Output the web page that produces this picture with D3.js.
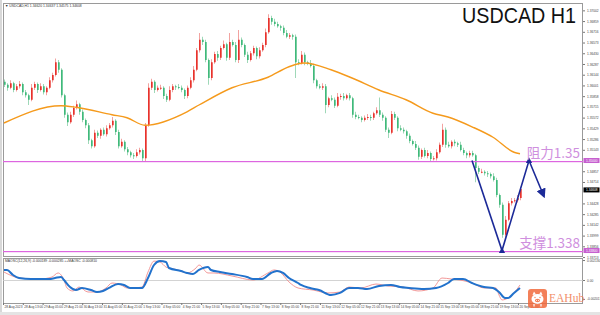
<!DOCTYPE html>
<html><head><meta charset="utf-8">
<script src="https://cdn.jsdelivr.net/npm/d3@7"></script>
<style>html,body{margin:0;padding:0;background:#fff;overflow:hidden}svg{display:block}</style>
</head><body><svg id="c" width="600" height="315"></svg>
<script>
// ---------------- DATA ----------------
const firstOpen = 1.3605;
const closes = [
1.3601,1.3597,1.3603,1.3594,1.3599,1.3602,1.3591,1.3587,1.3581,1.3597,
1.3602,1.3594,1.3599,1.3591,1.3597,1.3607,1.3614,1.3631,1.3621,1.3587,
1.3561,1.3551,1.3561,1.3570,1.3575,1.3565,1.3554,1.3547,1.3527,1.3519,
1.3537,1.3533,1.3541,1.3535,1.3543,1.3547,1.3553,1.3538,1.3519,1.3525,
1.3515,1.3511,1.3507,1.3506,1.3511,1.3514,1.3503,1.3547,1.3597,1.3605,
1.3594,1.3597,1.3597,1.3586,1.3581,1.3594,1.3599,1.3598,1.3597,1.3594,
1.3586,1.3597,1.3607,1.3621,1.3647,1.3661,1.3658,1.3634,1.3610,1.3631,
1.3642,1.3637,1.3650,1.3655,1.3637,1.3658,1.3654,1.3634,1.3661,1.3654,
1.3641,1.3634,1.3643,1.3650,1.3639,1.3647,1.3654,1.3671,1.3690,1.3685,
1.3682,1.3679,1.3677,1.3670,1.3665,1.3667,1.3665,1.3631,1.3630,1.3641,
1.3631,1.3630,1.3626,1.3607,1.3599,1.3597,1.3599,1.3574,1.3583,1.3581,
1.3573,1.3585,1.3586,1.3583,1.3587,1.3583,1.3561,1.3558,1.3557,1.3554,
1.3557,1.3558,1.3557,1.3563,1.3567,1.3561,1.3557,1.3541,1.3537,1.3562,
1.3557,1.3543,1.3541,1.3539,1.3533,1.3526,1.3522,1.3517,1.3505,1.3514,
1.3506,1.3510,1.3502,1.3503,1.3511,1.3521,1.3541,1.3521,1.3519,1.3525,
1.3523,1.3521,1.3514,1.3510,1.3507,1.3510,1.3507,1.3490,1.3485,1.3485,
1.3483,1.3482,1.3479,1.3474,1.3454,1.3441,1.3401,1.3421,1.3443,1.3446,
1.3447,1.3450,1.3462];
// wick lengths in pips (0.0001) above / below the body
const upWick = [
3,2,4,2,3,4,2,3,2,5, 3,2,4,3,2,4,3,5,3,2, 2,3,4,3,5,2,3,2,3,2, 4,3,2,3,4,3,5,2,3,4,
2,3,2,3,4,3,2,3,6,4, 2,3,4,2,3,5,3,2,4,3, 2,3,4,5,3,9,4,3,2,4, 3,4,3,5,2,12,3,4,13,3,
2,4,3,3,2,4,3,5,5,3, 4,3,2,3,4,3,2,3,4,5, 3,2,4,3,2,3,4,3,2,4, 3,5,3,4,2,3,2,4,3,2,
3,4,3,2,4,17,3,2,3,4, 3,2,4,3,2,3,2,4,3,2, 3,4,2,3,4,3,8,3,4,2, 3,2,4,3,2,3,3,2,3,4,
2,3,2,4,3,2,3,5,3,4, 3,4,3];
const dnWick = [
3,4,2,3,2,3,4,3,7,2, 3,4,2,3,4,2,3,2,4,3, 4,5,2,3,2,4,3,4,5,3, 2,3,4,2,3,2,3,4,3,2,
3,4,3,4,2,3,4,4,2,3, 4,2,3,4,3,2,3,4,2,3, 4,3,2,3,2,3,4,3,9,3, 2,4,3,2,4,3,2,3,4,3,
3,4,2,3,4,3,2,3,2,4, 3,2,4,3,2,3,4,21,3,2, 4,3,2,4,3,2,3,11,3,2, 3,2,4,3,2,3,4,3,2,3,
2,3,4,3,2,3,4,3,7,2, 3,4,2,3,4,3,2,3,4,3, 2,3,4,2,3,2,3,4,2,3, 4,3,2,3,4,3,2,19,3,2,
3,4,3,2,3,4,4,3,2,3, 2,3,3];
// moving average (orange)
const maIdx = [0,19,24,36,41,47,61,65,76,88,95,100,109,116,125,134,143,148,156,163,170,172];
const maVal = [1.3550,1.3573,1.3571,1.3561,1.3557,1.3547,1.3565,1.3574,1.3597,1.3611,1.3625,1.3630,1.3621,1.3610,1.3594,1.3581,1.3563,1.3558,1.3545,1.3531,1.3511,1.3509];
// oscillator
const blueIdx = [0,1,3,5,9,12,15,17,19,20,22,24,26,29,31,33,35,38,40,42,44,46,48,50,52,54,55,59,61,63,65,68,69,72,76,81,83,86,89,91,93,95,98,99,102,105,109,112,115,118,121,125,129,132,135,140,144,148,150,153,156,160,163,165,167,168,170,172];
const blueVal = [0.00107,0.00107,0.00053,0.00021,0.00011,0.00011,0.00011,0.00021,0.00032,0,-0.00075,-0.00107,-0.00085,-0.00107,-0.00128,-0.00117,-0.00085,-0.00043,-0.00053,-0.00085,-0.00085,-0.00085,0.00021,0.0016,0.00202,0.00192,0.00128,0.00096,0.00075,0.00064,0.00107,0.00138,0.00107,0.00085,0.00064,0.00032,0.00011,0.00011,0.00075,0.00096,0.00075,0.00021,-0.00032,-0.00053,-0.00085,-0.00107,-0.0016,-0.00138,-0.00085,-0.00085,-0.00096,-0.00064,-0.00053,-0.00075,-0.00085,-0.00096,-0.00085,-0.00032,0.00011,0.00011,-0.00032,-0.00075,-0.00085,-0.00128,-0.00192,-0.00192,-0.00138,-0.00085];
const redIdx = [0,2,5,12,16,18,20,21,23,25,28,31,34,36,39,41,43,46,48,50,52,54,58,61,64,65,68,70,76,83,88,90,92,95,98,103,108,112,115,119,124,128,133,138,143,146,149,152,156,160,164,165,166,168,170,172];
const redVal = [0.00085,0.00053,0.00021,0.00011,0.00032,0.00075,0,-0.00085,-0.00117,-0.00075,-0.00128,-0.00128,-0.00085,-0.00032,-0.00053,-0.00085,-0.00085,-0.00075,0.00085,0.00202,0.00192,0.00138,0.00107,0.00075,0.00128,0.0016,0.00075,0.00075,0.00043,0,0.00075,0.00107,0.00085,-0.00021,-0.00085,-0.00107,-0.00138,-0.00128,-0.00075,-0.00085,-0.00043,-0.00064,-0.00075,-0.00117,-0.00085,0.00021,0.00011,0,-0.00032,-0.00085,-0.00085,-0.0016,-0.00213,-0.00192,-0.00138,-0.00053];
// axis tick labels
const priceTicks = [1.37002,1.36859,1.36716,1.36573,1.36430,1.36287,1.36144,1.36001,1.35858,1.35715,1.35572,1.35429,1.35286,1.35143,1.34857,1.34714,1.34428,1.34285,1.34142,1.33999,1.33856,1.33713];
const oscTicks = [0.002130, 0.0, -0.002017];
const oscTickText = ["0.002130", "0.00", "-0.002017"];
const timeLabels = ["28 Aug 2023","28 Aug 13:00","29 Aug 05:00","29 Aug 21:00","30 Aug 13:00","31 Aug 05:00","31 Aug 21:00","1 Sep 13:00","4 Sep 05:00","4 Sep 21:00","5 Sep 13:00","6 Sep 05:00","6 Sep 21:00","7 Sep 13:00","8 Sep 05:00","8 Sep 21:00","11 Sep 13:00","12 Sep 05:00","12 Sep 21:00","13 Sep 13:00","14 Sep 05:00","14 Sep 21:00","15 Sep 13:00","18 Sep 05:00","18 Sep 21:00","19 Sep 13:00","20 Sep 05:00"];
const resistance = 1.35, support = 1.338, lastPrice = 1.34608;
const zigIdx = [156,166,175,180];
const zigVal = [1.3500,1.3380,1.3500,1.3452];
const title = "USDCAD H1";
const headerText = "\u25BC USDCAD,H1  1.34620 1.34637 1.34575 1.34608";
const oscHeader = "MAOSC(12,26,9) -0.000189 -0.000285 ++MAOSC -0.000810";

// ---------------- LAYOUT ----------------
const svg = d3.select("#c");
const L = 3, R = 583, mainT = 3, mainB = 256, oscT = 258, oscB = 303;
const x = d3.scaleLinear().domain([0, closes.length - 1]).range([4, 520]);
const y = d3.scaleLinear().domain([1.33727, 1.3714]).range([256, 0]);
const yo = d3.scaleLinear().domain([-0.00224, 0.00224]).range([301, 259]);
const xt = d3.scaleLinear().domain([0, timeLabels.length - 1]).range([3, 518]);

svg.append("rect").attr("width", 600).attr("height", 315).attr("fill", "#fff");
svg.append("rect").attr("x", 0).attr("y", 0).attr("width", 2).attr("height", 315).attr("fill", "#d8d8d8");
svg.append("rect").attr("x", 0).attr("y", 312).attr("width", 600).attr("height", 3).attr("fill", "#e4e4e4");

const defs = svg.append("defs");
defs.append("clipPath").attr("id", "mainClip").append("rect")
  .attr("x", L).attr("y", mainT).attr("width", R - L).attr("height", mainB - mainT);
defs.append("clipPath").attr("id", "oscClip").append("rect")
  .attr("x", L).attr("y", oscT).attr("width", R - L).attr("height", oscB - oscT);

// panel frames
svg.append("rect").attr("x", L + 0.5).attr("y", mainT + 0.5).attr("width", R - L - 1).attr("height", mainB - mainT)
  .attr("fill", "none").attr("stroke", "#9a9a9a").attr("stroke-width", 1);
svg.append("rect").attr("x", L + 0.5).attr("y", oscT + 0.5).attr("width", R - L - 1).attr("height", oscB - oscT)
  .attr("fill", "none").attr("stroke", "#9a9a9a").attr("stroke-width", 1);

const main = svg.append("g").attr("clip-path", "url(#mainClip)");

// candles
const opens = [firstOpen].concat(closes.slice(0, -1));
const candles = closes.map((c, i) => {
  const o = opens[i];
  return { i, o, c, h: Math.max(o, c) + upWick[i] * 1e-4, l: Math.min(o, c) - dnWick[i] * 1e-4 };
});
const upCol = "#e8322c", dnCol = "#3fb97a", upWick0 = "#f2a3a0", dnWick0 = "#9fd8b8";
const cg = main.append("g");
cg.selectAll("line.w").data(candles).join("line").attr("class", "w")
  .attr("x1", d => Math.round(x(d.i)) + 0.5).attr("x2", d => Math.round(x(d.i)) + 0.5)
  .attr("y1", d => y(d.h)).attr("y2", d => y(d.l))
  .attr("stroke", d => d.c >= d.o ? upWick0 : dnWick0).attr("stroke-width", 1);
cg.selectAll("rect.b").data(candles).join("rect").attr("class", "b")
  .attr("x", d => Math.round(x(d.i)))
  .attr("width", 1.7)
  .attr("y", d => y(Math.max(d.o, d.c)))
  .attr("height", d => Math.max(1, Math.abs(y(d.o) - y(d.c))))
  .attr("fill", d => d.c >= d.o ? upCol : dnCol);

// horizontal S/R lines (drawn over candles) as thin filled bars
const lineCol = "#dd66e0";
const srG = svg.append("g");
srG.selectAll("rect.sr").data([resistance, support]).join("rect").attr("class", "sr")
  .attr("x", L).attr("width", R - L)
  .attr("y", d => Math.round(y(d))).attr("height", 1.2)
  .attr("fill", lineCol);

// MA line
const maPts = maIdx.map((d, k) => [d, maVal[k]]);
main.append("path").datum(maPts)
  .attr("d", d3.line().x(d => x(d[0])).y(d => y(d[1])).curve(d3.curveMonotoneX))
  .attr("fill", "none").attr("stroke", "#f59a1c").attr("stroke-width", 1.4);

// zigzag projection
const zz = zigIdx.map((d, k) => [d, zigVal[k]]);
const blue = "#1c2a98";
defs.append("marker").attr("id", "arr").attr("viewBox", "0 0 10 10").attr("refX", 8).attr("refY", 5)
  .attr("markerWidth", 6).attr("markerHeight", 6).attr("orient", "auto")
  .append("path").attr("d", "M0,0 L10,5 L0,10 z").attr("fill", blue);
defs.append("marker").attr("id", "tri").attr("viewBox", "0 0 10 10").attr("refX", 5).attr("refY", 5)
  .attr("markerWidth", 4).attr("markerHeight", 4).attr("orient", 0)
  .append("path").attr("d", "M5,0 L10,9 L0,9 z").attr("fill", blue);
svg.append("path").datum(zz)
  .attr("d", d3.line().x(d => x(d[0])).y(d => y(d[1])))
  .attr("fill", "none").attr("stroke", blue).attr("stroke-width", 1.6)
  .attr("stroke-linejoin", "miter")
  .attr("marker-mid", "url(#tri)").attr("marker-end", "url(#arr)");

// annotations
const annCol = "#cf8fde";
svg.append("text").attr("x", 580).attr("y", 158).attr("text-anchor", "end")
  .attr("font-family", "'Noto Sans CJK SC', sans-serif").attr("font-size", 13.5).attr("fill", annCol)
  .text("阻力" + resistance.toFixed(2));
svg.append("text").attr("x", 580).attr("y", 248).attr("text-anchor", "end")
  .attr("font-family", "'Noto Sans CJK SC', sans-serif").attr("font-size", 13.5).attr("fill", annCol)
  .text("支撑" + support.toFixed(3));

// title
svg.append("text").attr("x", 462).attr("y", 23)
  .attr("font-family", "'Liberation Sans', Arial, sans-serif").attr("font-size", 21.5).attr("fill", "#111")
  .attr("textLength", 114).attr("lengthAdjust", "spacingAndGlyphs").text(title);

// header texts
svg.append("text").attr("x", 5).attr("y", 7).attr("font-family", "'Liberation Sans', Arial, sans-serif")
  .attr("font-size", 3.4).attr("fill", "#333").text(headerText);
svg.append("text").attr("x", 5).attr("y", 262).attr("font-family", "'Liberation Sans', Arial, sans-serif")
  .attr("font-size", 3.4).attr("fill", "#333").text(oscHeader);

// right price axis
const ax = svg.append("g").attr("transform", `translate(${R},0)`);
ax.append("g").call(d3.axisRight(y).tickValues(priceTicks).tickSize(2).tickFormat(d3.format(".5f")))
  .call(g => g.select(".domain").remove())
  .call(g => g.selectAll("line").attr("stroke", "#777"))
  .call(g => g.selectAll("text").attr("x", 4).attr("font-size", 3.2).attr("fill", "#444")
    .attr("font-family", "'Liberation Sans', Arial, sans-serif"));
function priceTag(v, bg, txt) {
  const yy = y(v);
  ax.append("rect").attr("x", 0.5).attr("y", yy - 2.5).attr("width", 16).attr("height", 5).attr("fill", bg);
  ax.append("text").attr("x", 3).attr("y", yy + 1.2).attr("font-size", 3.2).attr("fill", "#fff")
    .attr("font-family", "'Liberation Sans', Arial, sans-serif").text(txt);
}
priceTag(resistance, "#c65fcf", resistance.toFixed(5));
priceTag(support, "#c65fcf", support.toFixed(5));
priceTag(lastPrice, "#000", lastPrice.toFixed(5));

// oscillator panel
const osc = svg.append("g").attr("clip-path", "url(#oscClip)");
osc.append("line").attr("x1", L).attr("x2", R).attr("y1", Math.round(yo(0)) + 0.5).attr("y2", Math.round(yo(0)) + 0.5)
  .attr("stroke", "#c8c8c8").attr("stroke-width", 0.8);
const oline = d3.line().x(d => x(d[0])).y(d => yo(d[1])).curve(d3.curveMonotoneX);
osc.append("path").datum(redIdx.map((d, k) => [d, redVal[k]])).attr("d", oline)
  .attr("fill", "none").attr("stroke", "#f08c8c").attr("stroke-width", 0.9);
osc.append("path").datum(blueIdx.map((d, k) => [d, blueVal[k]])).attr("d", oline)
  .attr("fill", "none").attr("stroke", "#2272cc").attr("stroke-width", 2);
const oax = svg.append("g").attr("transform", `translate(${R},0)`);
oax.append("g").call(d3.axisRight(yo).tickValues(oscTicks).tickSize(2).tickFormat((d, k) => oscTickText[k]))
  .call(g => g.select(".domain").remove())
  .call(g => g.selectAll("line").attr("stroke", "#777"))
  .call(g => g.selectAll("text").attr("x", 4).attr("font-size", 3.2).attr("fill", "#444")
    .attr("font-family", "'Liberation Sans', Arial, sans-serif"));

// time axis
const tax = svg.append("g").attr("transform", `translate(0,${oscB})`);
tax.append("g").call(d3.axisBottom(xt).tickValues(d3.range(timeLabels.length)).tickSize(2).tickFormat(k => timeLabels[k]))
  .call(g => g.select(".domain").remove())
  .call(g => g.selectAll("line").attr("stroke", "#777"))
  .call(g => g.selectAll("text").attr("text-anchor", "start").attr("dx", 1).attr("y", 3)
    .attr("font-size", 3.2).attr("fill", "#444").attr("font-family", "'Liberation Sans', Arial, sans-serif"));

// watermark
const wm = svg.append("g").attr("transform", "translate(528,289)").attr("opacity", 0.85);
wm.append("rect").attr("width", 19).attr("height", 19).attr("rx", 3).attr("fill", "#f26a3d");
wm.append("path").attr("d", "M4.5,6 L6,2.5 L8,5.5 Z M14.5,6 L13,2.5 L11,5.5 Z").attr("fill", "#fff");
wm.append("ellipse").attr("cx", 9.5).attr("cy", 10).attr("rx", 6).attr("ry", 5).attr("fill", "#fff");
wm.append("ellipse").attr("cx", 9.5).attr("cy", 11.5).attr("rx", 2.6).attr("ry", 1.8).attr("fill", "#f26a3d");
wm.append("circle").attr("cx", 8.5).attr("cy", 11.5).attr("r", 0.5).attr("fill", "#fff");
wm.append("circle").attr("cx", 10.5).attr("cy", 11.5).attr("r", 0.5).attr("fill", "#fff");
wm.append("circle").attr("cx", 7).attr("cy", 8.5).attr("r", 0.7).attr("fill", "#f26a3d");
wm.append("circle").attr("cx", 12).attr("cy", 8.5).attr("r", 0.7).attr("fill", "#f26a3d");
wm.append("path").attr("d", "M6,15 L6,17.5 M13,15 L13,17.5").attr("stroke", "#fff").attr("stroke-width", 1.2);
svg.append("text").attr("x", 549).attr("y", 302).attr("font-family", "'Liberation Serif', serif")
  .attr("font-size", 11.5).attr("fill", "#f07a4e").attr("opacity", 0.85).text("EAHub");
</script></body></html>
